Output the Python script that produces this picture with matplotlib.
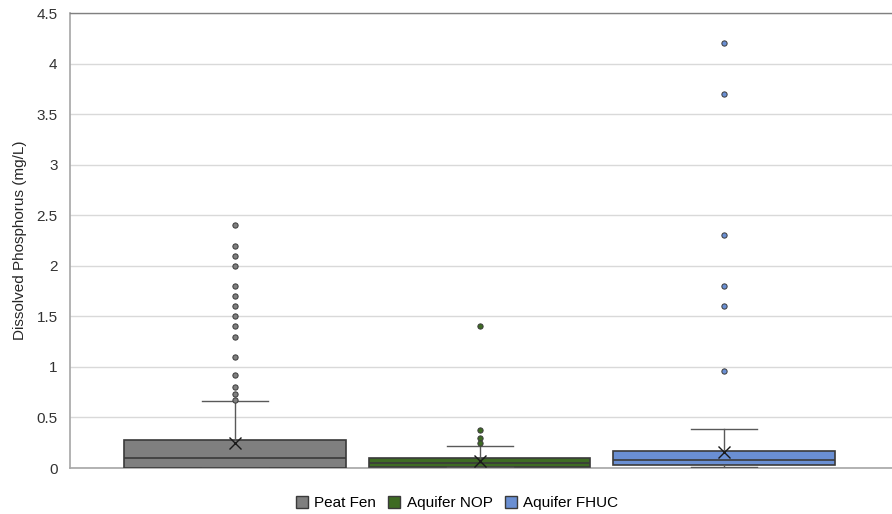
import matplotlib
matplotlib.use("Agg")
import matplotlib.pyplot as plt
from matplotlib.patches import Patch

plt.rcParams['font.family'] = ['Liberation Sans', 'DejaVu Sans']

series = ["Peat Fen", "Aquifer NOP", "Aquifer FHUC"]
colors = ["#7f7f7f", "#3e6b23", "#6a8fd3"]
q1 = [0.0, 0.013, 0.027]
medians = [0.10, 0.047, 0.083]
q3 = [0.278, 0.10, 0.172]
whis_lo = [0.0, 0.008, 0.007]
whis_hi = [0.665, 0.22, 0.385]
means = [0.25, 0.07, 0.156]
fliers = [
    [2.4, 2.2, 2.1, 2.0, 1.8, 1.7, 1.6, 1.5, 1.4, 1.3, 1.1, 0.92, 0.80, 0.73, 0.67],
    [1.4, 0.38, 0.30, 0.25],
    [4.2, 3.7, 2.3, 1.8, 1.6, 0.96],
]
yticks = [0, 0.5, 1, 1.5, 2, 2.5, 3, 3.5, 4, 4.5]
ytick_labels = ["0", "0.5", "1", "1.5", "2", "2.5", "3", "3.5", "4", "4.5"]

fig = plt.figure(figsize=(8.92, 5.14), dpi=100)
ax = fig.add_axes([70/892, 1 - 468/514, 822/892, (468-13)/514])

stats = []
for i in range(3):
    stats.append(dict(med=medians[i], q1=q1[i], q3=q3[i], whislo=whis_lo[i],
                      whishi=whis_hi[i], mean=means[i], fliers=fliers[i]))

for i, st in enumerate(stats):
    ax.bxp([st], positions=[i], widths=0.905, patch_artist=True, showmeans=True,
           showfliers=True,
           boxprops=dict(facecolor=colors[i], edgecolor="#3a3a3a", linewidth=1.2),
           medianprops=dict(color="#3a3a3a", linewidth=1.2),
           whiskerprops=dict(color="#595959", linewidth=1.0),
           capprops=dict(color="#595959", linewidth=1.0),
           capwidths=0.27,
           meanprops=dict(marker="x", markeredgecolor="#1a1a1a", markersize=8,
                          markeredgewidth=1.0, linestyle="none"),
           flierprops=dict(marker="o", markerfacecolor=colors[i],
                           markeredgecolor="#3a3a3a", markersize=3.8,
                           markeredgewidth=0.7, linestyle="none"),
           zorder=3)

ax.set_xlim(-0.675, 2.687)
ax.set_ylim(0, 4.5)
ax.set_yticks(yticks)
ax.set_yticklabels(ytick_labels, fontsize=11, color="#333333")
ax.set_xticks([])
ax.yaxis.grid(True, color="#d9d9d9", linewidth=1.0, zorder=0)
ax.set_axisbelow(True)
ax.tick_params(axis='y', length=0, pad=9)
for s in ["left", "bottom"]:
    ax.spines[s].set_color("#a6a6a6")
    ax.spines[s].set_linewidth(1.2)
ax.spines["top"].set_color("#808080")
ax.spines["top"].set_linewidth(1.0)
ax.spines["right"].set_visible(False)
ax.set_ylabel("Dissolved Phosphorus (mg/L)", fontsize=11, color="#262626", labelpad=7)

handles = [Patch(facecolor=c, edgecolor="#3a3a3a", linewidth=1.0) for c in colors]
fig.legend(handles, series, loc="center", bbox_to_anchor=(457/892, 1 - 503/514),
           ncol=3, frameon=False, fontsize=11, handlelength=0.8, handleheight=0.8,
           handletextpad=0.4, columnspacing=0.8)

fig.savefig("out.png", dpi=100)
